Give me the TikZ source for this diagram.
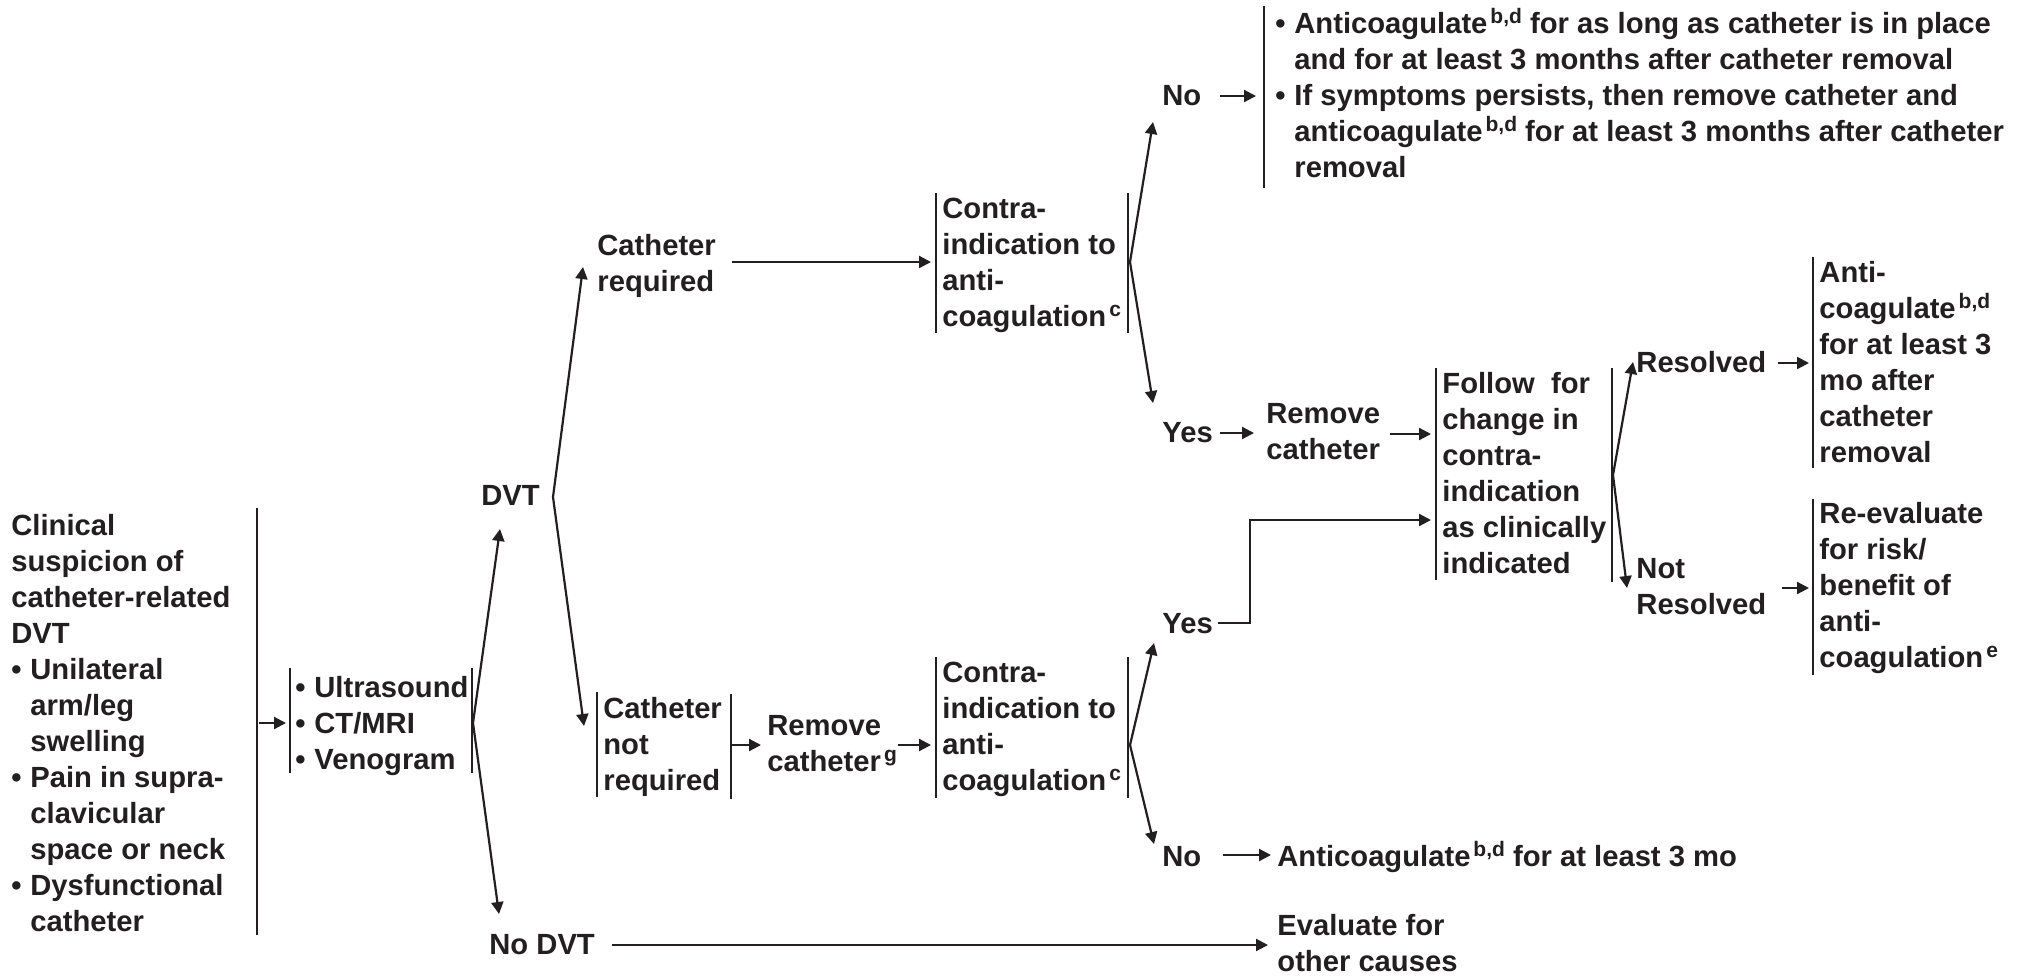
\documentclass[tikz,border=0pt]{standalone}
\usepackage{fontspec}
\setmainfont{Liberation Sans}
\usetikzlibrary{arrows.meta}
\definecolor{ink}{HTML}{231F20}
\newcommand\fs{\fontsize{14.6}{18}\selectfont\bfseries}
\newcommand\mlines[1]{\begin{tabular}[t]{@{}l@{}}#1\end{tabular}}
\newcommand\bul{\makebox[9.5pt][l]{•}}
\newcommand\ind{\hspace*{9.5pt}}
\newcommand\sups[1]{\hspace{1.5pt}\raisebox{5pt}{\fontsize{10.5}{10.5}\selectfont #1}}
\begin{document}
\begin{tikzpicture}[x=0.5pt,y=-0.5pt,
  txt/.style={anchor=base west,inner sep=0pt,font=\fs,text=ink},
  arr/.style={draw=ink,line width=1.1pt,-{Triangle[length=6pt,width=6pt]}},
  ln/.style={draw=ink,line width=1.1pt},
  brk/.style={draw=ink,line width=1.2pt}]
\fill[white] (0,0) rectangle (2018,976);
\useasboundingbox (0,0) rectangle (2018,976);

% ---------- text nodes ----------
\node[txt] (clin) at (11,535) {\mlines{Clinical\\suspicion of\\catheter-related\\DVT\\\bul Unilateral\\\ind arm/leg\\\ind swelling\\\bul Pain in supra-\\\ind clavicular\\\ind space or neck\\\bul Dysfunctional\\\ind catheter}};
\node[txt] (tests) at (295,697) {\mlines{\bul Ultrasound\\\bul CT/MRI\\\bul Venogram}};
\node[txt] (dvt) at (481,505) {DVT};
\node[txt] (nodvt) at (489,954) {No DVT};
\node[txt] (catreq) at (597,255) {\mlines{Catheter\\required}};
\node[txt] (catnot) at (603,718) {\mlines{Catheter\\not\\required}};
\node[txt] (remb) at (767,735) {\mlines{Remove\\catheter\sups{g}}};
\node[txt] (contraA) at (942,218) {\mlines{Contra-\\indication to\\anti-\\coagulation\sups{c}}};
\node[txt] (contraB) at (942,682) {\mlines{Contra-\\indication to\\anti-\\coagulation\sups{c}}};
\node[txt] (noA) at (1162,105) {No};
\node[txt] (topbox) at (1275,33) {\mlines{\bul Anticoagulate\sups{b,d} for as long as catheter is in place\\\ind and for at least 3 months after catheter removal\\\bul If symptoms persists, then remove catheter and\\\ind anticoagulate\sups{b,d} for at least 3 months after catheter\\\ind removal}};
\node[txt] (yesA) at (1162,442) {Yes};
\node[txt] (rema) at (1266,423) {\mlines{Remove\\catheter}};
\node[txt] (follow) at (1442,393) {\mlines{Follow~ for\\change in\\contra-\\indication\\as clinically\\indicated}};
\node[txt] (res) at (1636,372) {Resolved};
\node[txt] (notres) at (1636,578) {\mlines{Not\\Resolved}};
\node[txt] (anti) at (1819,282) {\mlines{Anti-\\coagulate\sups{b,d}\\for at least 3\\mo after\\catheter\\removal}};
\node[txt] (reeval) at (1819,523) {\mlines{Re-evaluate\\for risk/\\benefit of\\anti-\\coagulation\sups{e}}};
\node[txt] (yesB) at (1162,633) {Yes};
\node[txt] (noB) at (1162,866) {No};
\node[txt] (ac3) at (1277,866) {Anticoagulate\sups{b,d} for at least 3 mo};
\node[txt] (evalo) at (1277,935) {\mlines{Evaluate for\\other causes}};

% ---------- bracket lines ----------
\coordinate (clinT) at (257,508); \coordinate (clinB) at (257,935);
\coordinate (testsLT) at (290,668); \coordinate (testsLB) at (290,773);
\coordinate (testsRT) at (472,668); \coordinate (testsRB) at (472,773);
\coordinate (catnotLT) at (597,692); \coordinate (catnotLB) at (597,797);
\coordinate (catnotRT) at (731,694); \coordinate (catnotRB) at (731,799);
\coordinate (cALT) at (936,193); \coordinate (cALB) at (936,333);
\coordinate (cART) at (1128,193); \coordinate (cARB) at (1128,333);
\coordinate (cBLT) at (936,657); \coordinate (cBLB) at (936,798);
\coordinate (cBRT) at (1128,657); \coordinate (cBRB) at (1128,798);
\coordinate (topT) at (1264,6); \coordinate (topB) at (1264,188);
\coordinate (fLT) at (1436,368); \coordinate (fLB) at (1436,580);
\coordinate (fRT) at (1612,368); \coordinate (fRB) at (1612,582);
\coordinate (antiT) at (1813,257); \coordinate (antiB) at (1813,468);
\coordinate (reT) at (1813,499); \coordinate (reB) at (1813,675);
\foreach \a/\b in {clinT/clinB,testsLT/testsLB,testsRT/testsRB,catnotLT/catnotLB,catnotRT/catnotRB,cALT/cALB,cART/cARB,cBLT/cBLB,cBRT/cBRB,topT/topB,fLT/fLB,fRT/fRB,antiT/antiB,reT/reB}
  \draw[brk] (\a) -- (\b);

% ---------- connector points ----------
\coordinate (clinOut) at (259,723);  \coordinate (testsIn) at (286,723);
\coordinate (testsOut) at (473,723);
\coordinate (dvtIn) at (500,529);    \coordinate (nodvtIn) at (499,914);
\coordinate (dvtOut) at (553,497);
\coordinate (catreqIn) at (583,267); \coordinate (catnotIn) at (584,726);
\coordinate (catreqOut) at (732,262); \coordinate (cAIn) at (931,262);
\coordinate (catnotOut) at (732,745); \coordinate (rembIn) at (761,745);
\coordinate (rembOut) at (898,745);   \coordinate (cBIn) at (931,745);
\coordinate (cAOut) at (1130,262);
\coordinate (noAIn) at (1153,122);   \coordinate (yesAIn) at (1153,403);
\coordinate (noAOut) at (1220,96);   \coordinate (topIn) at (1256,96);
\coordinate (yesAOut) at (1220,433); \coordinate (remaIn) at (1254,433);
\coordinate (remaOut) at (1390,434); \coordinate (fIn) at (1431,434);
\coordinate (cBOut) at (1130,745);
\coordinate (yesBIn) at (1154,643);  \coordinate (noBIn) at (1154,844);
\coordinate (yesBOut) at (1218,623); \coordinate (yesBc1) at (1250,623);
\coordinate (yesBc2) at (1250,520);  \coordinate (fIn2) at (1431,520);
\coordinate (noBOut) at (1223,855);  \coordinate (ac3In) at (1271,855);
\coordinate (nodvtOut) at (612,945); \coordinate (evalIn) at (1268,945);
\coordinate (fOut) at (1613,475);
\coordinate (resIn) at (1633,362);   \coordinate (notresIn) at (1627,588);
\coordinate (resOut) at (1778,363);  \coordinate (antiIn) at (1809,363);
\coordinate (notresOut) at (1782,588); \coordinate (reIn) at (1809,588);

% ---------- connectors ----------
\draw[arr] (clinOut) -- (testsIn);
\draw[arr] (testsOut) -- (dvtIn);
\draw[arr] (testsOut) -- (nodvtIn);
\draw[arr] (dvtOut) -- (catreqIn);
\draw[arr] (dvtOut) -- (catnotIn);
\draw[arr] (catreqOut) -- (cAIn);
\draw[arr] (catnotOut) -- (rembIn);
\draw[arr] (rembOut) -- (cBIn);
\draw[arr] (cAOut) -- (noAIn);
\draw[arr] (cAOut) -- (yesAIn);
\draw[arr] (noAOut) -- (topIn);
\draw[arr] (yesAOut) -- (remaIn);
\draw[arr] (remaOut) -- (fIn);
\draw[arr] (cBOut) -- (yesBIn);
\draw[arr] (cBOut) -- (noBIn);
\draw[arr] (yesBOut) -- (yesBc1) -- (yesBc2) -- (fIn2);
\draw[arr] (noBOut) -- (ac3In);
\draw[arr] (nodvtOut) -- (evalIn);
\draw[arr] (fOut) -- (resIn);
\draw[arr] (fOut) -- (notresIn);
\draw[arr] (resOut) -- (antiIn);
\draw[arr] (notresOut) -- (reIn);
\end{tikzpicture}
\end{document}
